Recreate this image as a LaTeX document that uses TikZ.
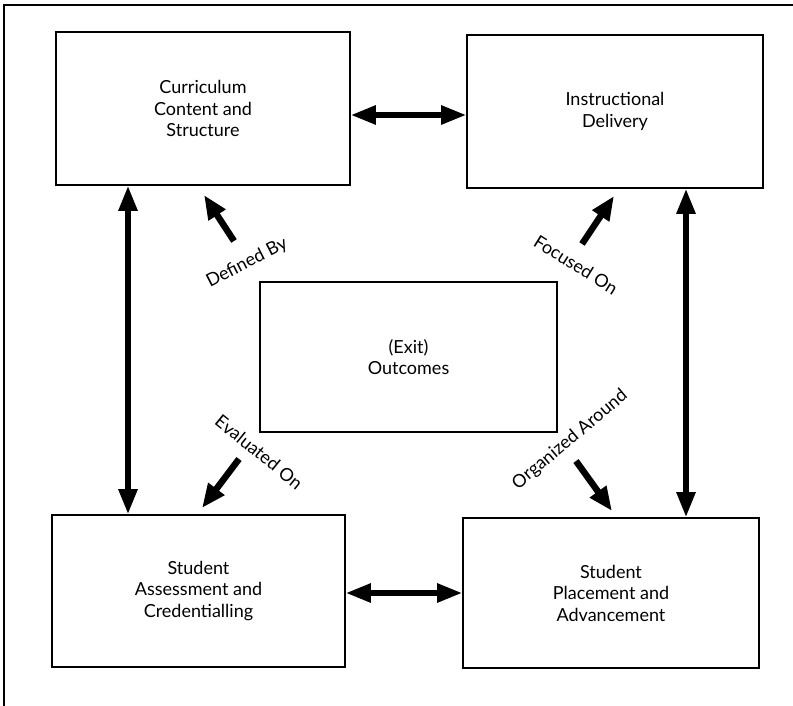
\documentclass[tikz,border=0pt]{standalone}
\usepackage{fontspec}
\setmainfont{Lato}
\usetikzlibrary{arrows.meta}
\tikzset{
  box/.style={draw, line width=1.6pt, align=center, inner sep=0pt, font=\fontsize{18}{21.5}\selectfont},
  dblarrow/.style={line width=5.5pt, {Triangle[length=25pt,width=18pt]}-{Triangle[length=25pt,width=18pt]}},
  onearrow/.style={line width=6.5pt, -{Triangle[length=24pt,width=19pt]}},
  lbl/.style={font=\fontsize{18}{21}\selectfont, inner sep=0pt},
  frame/.style={line width=1.6pt}
}
\begin{document}
\begin{tikzpicture}[x=1pt,y=-1pt]
\useasboundingbox (0,0) rectangle (793,706);
% partial frame (top and left)
\coordinate (fTL) at (4,5);
\coordinate (fTR) at (793,5);
\coordinate (fBL) at (4,706);
\draw[frame] (fTR) -- (fTL) -- (fBL);

\node[box, minimum width=294pt, minimum height=153pt] (cur) at (203,108.5) {Curriculum\\Content and\\Structure};
\node[box, minimum width=296pt, minimum height=153pt] (ins) at (615,111.5) {Instructional\\Delivery};
\node[box, minimum width=297pt, minimum height=150pt] (out) at (408.5,357) {(Exit)\\Outcomes};
\node[box, minimum width=293pt, minimum height=152pt] (ass) at (198.5,591) {Student\\Assessment and\\Credentialling};
\node[box, minimum width=296pt, minimum height=150pt] (pla) at (611,593) {Student\\Placement and\\Advancement};

% horizontal double arrows
\coordinate (ytop) at (0,115);
\coordinate (ybot) at (0,593);
\draw[dblarrow] (cur.east |- ytop) -- (ins.west |- ytop);
\draw[dblarrow] (ass.east |- ybot) -- (pla.west |- ybot);

% vertical double arrows
\coordinate (xl) at (128,0);
\coordinate (xr) at (686,0);
\draw[dblarrow] (cur.south -| xl) -- (ass.north -| xl);
\draw[dblarrow] (ins.south -| xr) -- (pla.north -| xr);

% diagonal arrows
\coordinate (dbS) at (234,241);
\coordinate (dbE) at (204,195);
\coordinate (foS) at (582,244);
\coordinate (foE) at (614,196);
\coordinate (evS) at (239,459);
\coordinate (evE) at (202,508);
\coordinate (orS) at (576,461);
\coordinate (orE) at (612,511);
\draw[onearrow] (dbS) -- (dbE);
\draw[onearrow] (foS) -- (foE);
\draw[onearrow] (evS) -- (evE);
\draw[onearrow] (orS) -- (orE);

% labels
\node[lbl, rotate=27] (ldb) at (247,263) {Defined By};
\node[lbl, rotate=-32] (lfo) at (576,265) {Focused On};
\node[lbl, rotate=-39] (lev) at (259,452) {Evaluated On};
\node[lbl, rotate=40] (lor) at (570,440) {Organized Around};
\end{tikzpicture}
\end{document}
